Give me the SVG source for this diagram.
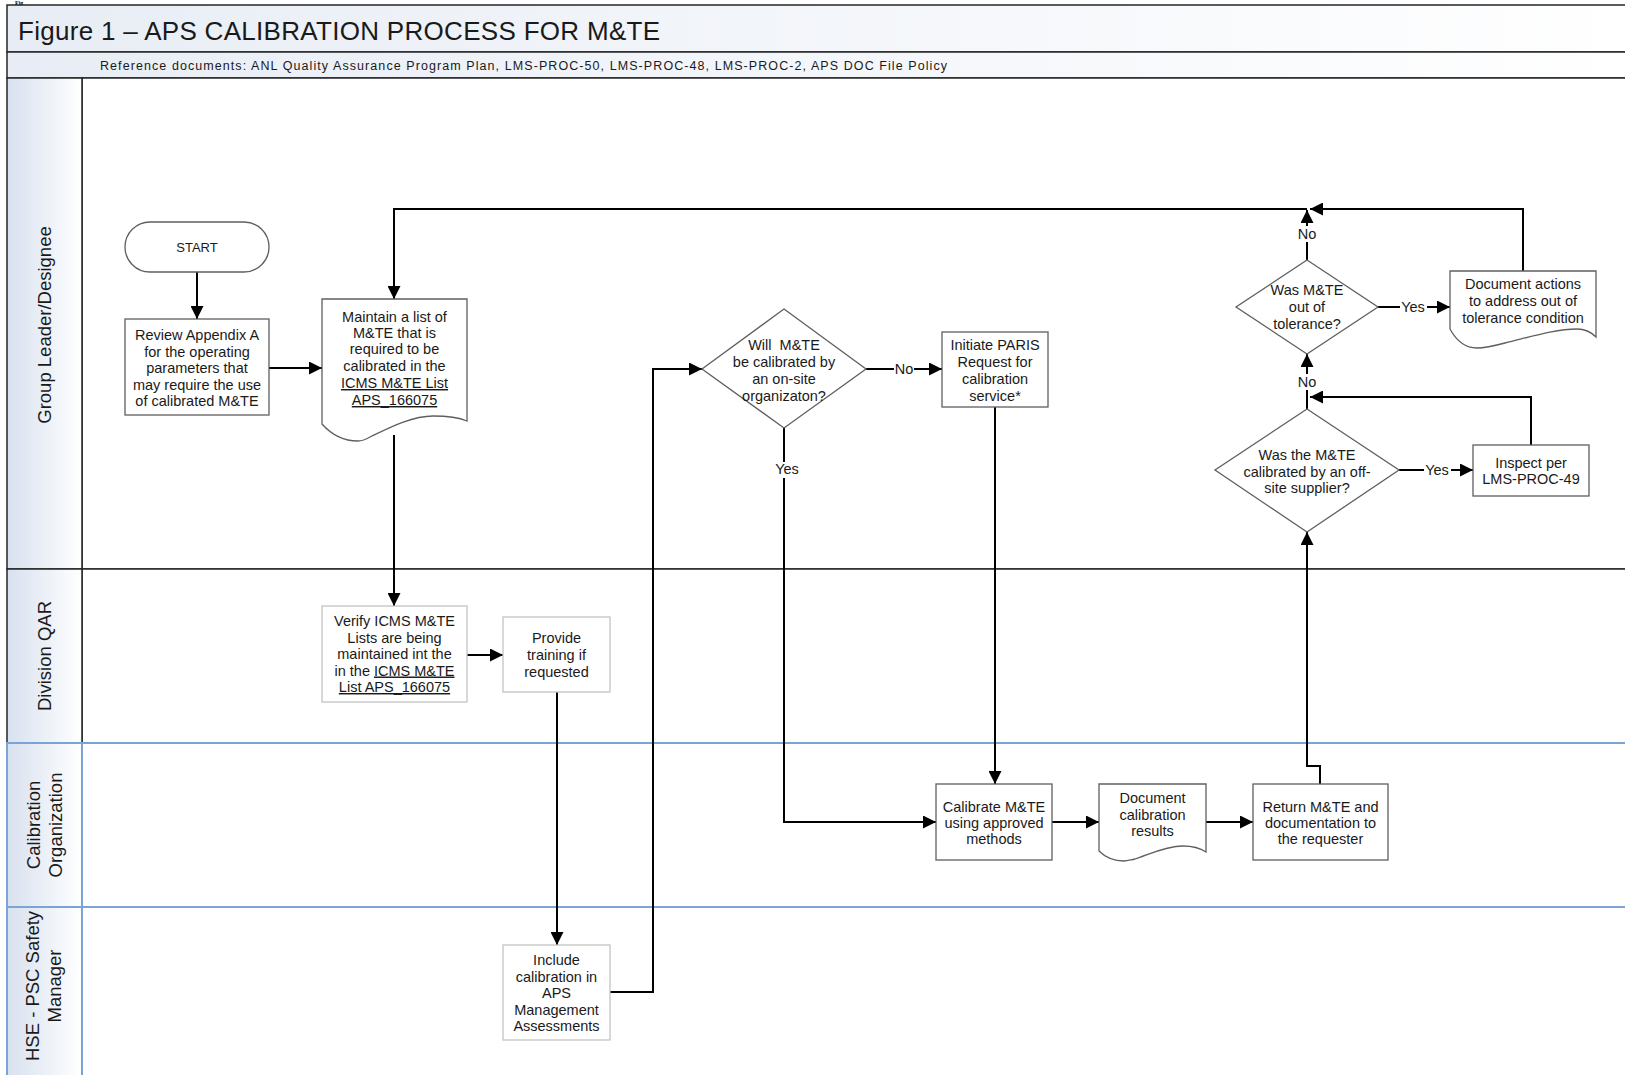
<svg xmlns="http://www.w3.org/2000/svg" width="1625" height="1075" viewBox="0 0 1625 1075">
<defs>
  <linearGradient id="hdr" x1="0" y1="0" x2="1" y2="0">
    <stop offset="0" stop-color="#D8E1EF"/>
    <stop offset="1" stop-color="#FFFFFF"/>
  </linearGradient>
  <linearGradient id="ttl" x1="0" y1="0" x2="1" y2="0">
    <stop offset="0" stop-color="#E8EDF5"/>
    <stop offset="1" stop-color="#FFFFFF"/>
  </linearGradient>
  <marker id="ah" markerWidth="13" markerHeight="13" refX="13" refY="6.5" orient="auto" markerUnits="userSpaceOnUse">
    <path d="M0,0 L13,6.5 L0,13 Z" fill="#000"/>
  </marker>
  <style>
    .t { font-family: "Liberation Sans", Arial, sans-serif; font-size: 14.5px; fill: #1a1a1a; text-anchor: middle; }
    .lane { font-family: "Liberation Sans", Arial, sans-serif; font-size: 18.5px; fill: #1a1a1a; text-anchor: middle; }
    .box { fill: #fff; stroke: #5f5f5f; stroke-width: 1.3; }
    .box2 { fill: #fff; stroke: #c4c4c4; stroke-width: 1.3; }
    .ln { fill: none; stroke: #000; stroke-width: 2; }
    .arr { fill: none; stroke: #000; stroke-width: 2; marker-end: url(#ah); }
    .bg { fill: #fff; }
    .dk { stroke: #262626; stroke-width: 1.5; }
    .bl { stroke: #7BA3D3; stroke-width: 2; }
    .u { text-decoration: underline; }
  </style>
</defs>

<text x="15" y="4.5" font-family="Liberation Serif, serif" font-weight="bold" font-size="6" fill="#000">Fig</text>

<g id="frame">
  <rect x="7" y="5" width="1630" height="47" fill="url(#ttl)" class="dk"/>
  <rect x="7" y="52" width="1630" height="26" fill="url(#ttl)" class="dk"/>
  <text x="18" y="40" font-family="Liberation Sans, Arial, sans-serif" font-size="26" letter-spacing="0.3" fill="#1a1a1a">Figure 1 – APS CALIBRATION PROCESS FOR M&amp;TE</text>
  <text x="100" y="70" font-family="Liberation Sans, Arial, sans-serif" font-size="12.5" textLength="847" lengthAdjust="spacing" fill="#1a1a1a">Reference documents: ANL Quality Assurance Program Plan, LMS-PROC-50, LMS-PROC-48, LMS-PROC-2, APS DOC File Policy</text>
</g>

<g id="lane-group-leader">
  <rect x="82" y="78" width="1560" height="491" fill="#fff" class="dk"/>
  <rect x="7" y="78" width="75" height="491" fill="url(#hdr)" class="dk"/>
  <text class="lane" transform="translate(51,325) rotate(-90)">Group Leader/Designee</text>
</g>
<g id="lane-division-qar">
  <rect x="82" y="569" width="1560" height="174" fill="#fff" class="dk"/>
  <rect x="7" y="569" width="75" height="174" fill="url(#hdr)" class="dk"/>
  <text class="lane" transform="translate(51,656) rotate(-90)">Division QAR</text>
</g>
<g id="lane-calibration-org">
  <rect x="82" y="743" width="1560" height="164" fill="#fff" class="bl"/>
  <rect x="7" y="743" width="75" height="164" fill="url(#hdr)" class="bl"/>
  <text class="lane" transform="translate(40,825) rotate(-90)">Calibration</text>
  <text class="lane" transform="translate(62,825) rotate(-90)">Organization</text>
</g>
<g id="lane-hse">
  <rect x="82" y="907" width="1560" height="180" fill="#fff" class="bl"/>
  <rect x="7" y="907" width="75" height="180" fill="url(#hdr)" class="bl"/>
  <text class="lane" transform="translate(39,986) rotate(-90)">HSE - PSC Safety</text>
  <text class="lane" transform="translate(61,986) rotate(-90)">Manager</text>
</g>

<g id="connectors">
  <path class="arr" d="M197,272 V319"/>
  <path class="arr" d="M269,368 H322"/>
  <path class="arr" d="M394,435 V606"/>
  <path class="arr" d="M467,655 H503"/>
  <path class="arr" d="M557,692 V945"/>
  <path class="arr" d="M610,992 H653 V369 H702"/>
  <path class="arr" d="M866,369 H942"/>
  <path class="arr" d="M784,428 V822 H936"/>
  <path class="arr" d="M995,407 V784"/>
  <path class="arr" d="M1052,822 H1099"/>
  <path class="arr" d="M1206,822 H1253"/>
  <path class="arr" d="M1320,784 V766 H1307 V532"/>
  <path class="arr" d="M1399,470 H1473"/>
  <path class="arr" d="M1531,445 V397 H1310"/>
  <path class="arr" d="M1307,409 V354"/>
  <path class="arr" d="M1378,307 H1450"/>
  <path class="arr" d="M1523,271 V209 H1310"/>
  <path class="arr" d="M1307,260 V210"/>
  <path class="arr" d="M1307,209 H394 V299"/>
  <rect class="bg" x="894" y="361" width="20" height="16"/>
  <text class="t" x="904" y="374">No</text>
  <rect class="bg" x="773" y="462" width="28" height="16"/>
  <text class="t" x="787" y="474">Yes</text>
  <rect class="bg" x="1400" y="299" width="27" height="16"/>
  <text class="t" x="1413" y="312">Yes</text>
  <rect class="bg" x="1424" y="462" width="27" height="16"/>
  <text class="t" x="1437" y="475">Yes</text>
  <rect class="bg" x="1297" y="226" width="20" height="16"/>
  <text class="t" x="1307" y="239">No</text>
  <rect class="bg" x="1297" y="374" width="20" height="16"/>
  <text class="t" x="1307" y="387">No</text>
</g>

<g id="start">
  <rect class="box" x="125" y="222" width="144" height="50" rx="25" ry="25" stroke="#000"/>
  <text class="t" x="197" y="252" style="font-size:13px">START</text>
</g>

<g id="review">
  <rect class="box" x="125" y="319" width="144" height="96"/>
  <text class="t" x="197" y="340">Review Appendix A</text>
  <text class="t" x="197" y="356.5">for the operating</text>
  <text class="t" x="197" y="373">parameters that</text>
  <text class="t" x="197" y="389.5">may require the use</text>
  <text class="t" x="197" y="406">of calibrated M&amp;TE</text>
</g>

<g id="maintain">
  <path class="box" d="M322,299 H467 V421 C460,418 448,416 433,416 C410,416 385,430 370,437 C365,440 362,441 358,441 C342,441 330,433 322,424 Z" stroke="#000"/>
  <text class="t" x="394.5" y="322">Maintain a list of</text>
  <text class="t" x="394.5" y="338">M&amp;TE that is</text>
  <text class="t" x="394.5" y="354">required to be</text>
  <text class="t" x="394.5" y="371">calibrated in the</text>
  <text class="t u" x="394.5" y="388">ICMS M&amp;TE List</text>
  <text class="t u" x="394.5" y="405">APS_166075</text>
</g>

<g id="verify">
  <rect class="box2" x="322" y="606" width="145" height="96"/>
  <text class="t" x="394.5" y="626">Verify ICMS M&amp;TE</text>
  <text class="t" x="394.5" y="642.5">Lists are being</text>
  <text class="t" x="394.5" y="659">maintained int the</text>
  <text class="t" x="394.5" y="675.5">in the <tspan class="u">ICMS M&amp;TE</tspan></text>
  <text class="t u" x="394.5" y="692">List APS_166075</text>
</g>

<g id="provide">
  <rect class="box2" x="503" y="617" width="107" height="75"/>
  <text class="t" x="556.5" y="643">Provide</text>
  <text class="t" x="556.5" y="660">training if</text>
  <text class="t" x="556.5" y="677">requested</text>
</g>

<g id="include">
  <rect class="box2" x="503" y="945" width="107" height="95"/>
  <text class="t" x="556.5" y="965">Include</text>
  <text class="t" x="556.5" y="981.5">calibration in</text>
  <text class="t" x="556.5" y="998">APS</text>
  <text class="t" x="556.5" y="1014.5">Management</text>
  <text class="t" x="556.5" y="1031">Assessments</text>
</g>

<g id="onsite-decision">
  <path class="box" d="M784,309 L866,369 L784,428 L702,369 Z" stroke="#000"/>
  <text class="t" x="784" y="350" xml:space="preserve">Will  M&amp;TE</text>
  <text class="t" x="784" y="367">be calibrated by</text>
  <text class="t" x="784" y="384">an on-site</text>
  <text class="t" x="784" y="401">organizaton?</text>
</g>

<g id="initiate">
  <rect class="box" x="942" y="332" width="106" height="75"/>
  <text class="t" x="995" y="350">Initiate PARIS</text>
  <text class="t" x="995" y="367">Request for</text>
  <text class="t" x="995" y="384">calibration</text>
  <text class="t" x="995" y="401">service*</text>
</g>

<g id="calibrate">
  <rect class="box" x="936" y="784" width="116" height="76"/>
  <text class="t" x="994" y="812">Calibrate M&amp;TE</text>
  <text class="t" x="994" y="828">using approved</text>
  <text class="t" x="994" y="844">methods</text>
</g>

<g id="document-results">
  <path class="box" d="M1099,784 H1206 V852 C1200,848 1192,846 1183,846 C1165,846 1148,855 1135,859 C1130,860 1127,861 1124,861 C1112,861 1104,856 1099,851 Z" stroke="#000"/>
  <text class="t" x="1152.5" y="803">Document</text>
  <text class="t" x="1152.5" y="820">calibration</text>
  <text class="t" x="1152.5" y="836">results</text>
</g>

<g id="return">
  <rect class="box" x="1253" y="784" width="135" height="76"/>
  <text class="t" x="1320.5" y="812">Return M&amp;TE and</text>
  <text class="t" x="1320.5" y="828">documentation to</text>
  <text class="t" x="1320.5" y="844">the requester</text>
</g>

<g id="offsite-decision">
  <path class="box" d="M1307,409 L1399,470 L1307,532 L1215,470 Z" stroke="#000"/>
  <text class="t" x="1307" y="460">Was the M&amp;TE</text>
  <text class="t" x="1307" y="477">calibrated by an off-</text>
  <text class="t" x="1307" y="493">site supplier?</text>
</g>

<g id="inspect">
  <rect class="box" x="1473" y="445" width="116" height="51"/>
  <text class="t" x="1531" y="468">Inspect per</text>
  <text class="t" x="1531" y="484">LMS-PROC-49</text>
</g>

<g id="tolerance-decision">
  <path class="box" d="M1307,260 L1378,307 L1307,354 L1236,307 Z" stroke="#000"/>
  <text class="t" x="1307" y="295">Was M&amp;TE</text>
  <text class="t" x="1307" y="312">out of</text>
  <text class="t" x="1307" y="329">tolerance?</text>
</g>

<g id="document-actions">
  <path class="box" d="M1450,271 H1596 V337 C1590,331 1584,329 1577,329 C1555,329 1530,337 1505,343 C1490,347 1482,348 1477,348 C1465,348 1456,340 1450,329 Z" stroke="#000"/>
  <text class="t" x="1523" y="289">Document actions</text>
  <text class="t" x="1523" y="306">to address out of</text>
  <text class="t" x="1523" y="323">tolerance condition</text>
</g>
</svg>
